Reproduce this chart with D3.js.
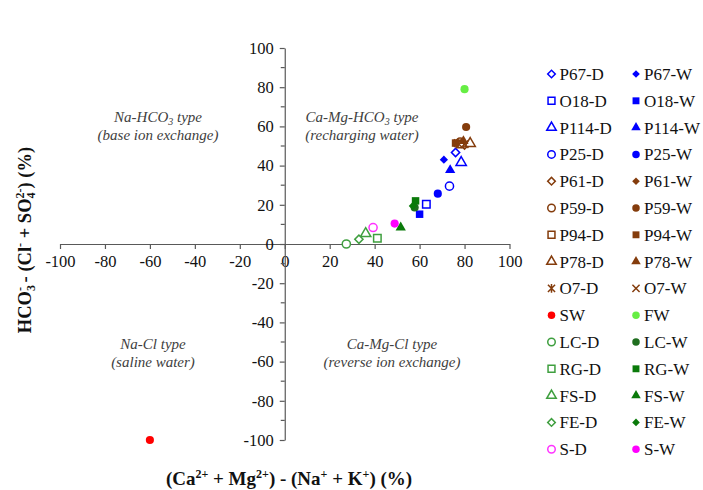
<!DOCTYPE html>
<meta charset="utf-8">
<style>
  body { margin: 0; background: #fff; }
  svg { font-family: "Liberation Serif", "Times New Roman", serif; }
  .axis path, .axis line { stroke: #595959; stroke-width: 1.2; }
  .quad { font-size: 15px; font-style: italic; fill: #404040; text-anchor: middle; }
  .legend text { font-size: 17px; fill: #111; }
  .title { font-weight: bold; fill: #111; }
</style>
<svg width="703" height="490"></svg>
<script src="https://d3js.org/d3.v7.min.js"></script>
<script>

// sample names in legend order (D column, W column)
var names = ["P67-D","P67-W","O18-D","O18-W","P114-D","P114-W","P25-D","P25-W",
             "P61-D","P61-W","P59-D","P59-W","P94-D","P94-W","P78-D","P78-W",
             "O7-D","O7-W","SW","FW","LC-D","LC-W","RG-D","RG-W",
             "FS-D","FS-W","FE-D","FE-W","S-D","S-W"];
// (Ca + Mg) - (Na + K), %
var xVals = [76, 70.8, 63, 60, 78.5, 73.6, 73.3, 68.1,
             80, 79, 78, 80.7, 78, 76, 82.5, 79.5,
             77, 80, -60, 80, 27.4, 57.8, 41.2, 58.2,
             36, 51.6, 33, 57, 39.3, 48.9];
// HCO3 - (Cl + SO4), %
var yVals = [46.7, 43, 20.3, 15.2, 41.6, 37.7, 29.5, 25.7,
             50.5, 52, 52, 59.7, 51, 51.5, 51.3, 52.5,
             51.5, 51, -100, 79, 0, 18.6, 2.9, 22,
             5.3, 8.4, 2.4, 19.4, 8.4, 10.4];

// marker styles
var shapes = ["diamond","diamond","square","square","triangle","triangle","circle","circle",
              "diamond","diamond","circle","circle","square","square","triangle","triangle",
              "asterisk","x","circle","circle","circle","circle","square","square",
              "triangle","triangle","diamond","diamond","circle","circle"];
var filled = [0,1,0,1,0,1,0,1, 0,1,0,1,0,1,0,1, 0,0,1,1, 0,1,0,1, 0,1,0,1, 0,1];
var blue = "#0000ff", brown = "#843c0c", gD = "#3f9f3f", gW = "#0a7a0a";
var colors = [blue,blue,blue,blue,blue,blue,blue,blue,
              brown,brown,brown,brown,brown,brown,brown,brown,
              brown,brown,"#ff0000","#66ee44",gD,"#1f6e1f",gD,gW,
              gD,gW,gD,gW,"#ff33ff","#ff00ff"];

var xTicks = [-100,-80,-60,-40,-20,0,20,40,60,80,100];
var yTicks = [-100,-80,-60,-40,-20,0,20,40,60,80,100];
var yMinor = [-90,-70,-50,-30,-10,10,30,50,70,90];

var svg = d3.select("svg");

var x = d3.scaleLinear().domain([-100, 100]).range([60, 509.5]);
var y = d3.scaleLinear().domain([-100, 100]).range([440, 48]);

// custom stroke symbols
var symX = { draw: function(ctx, size) {
  var r = Math.sqrt(size) / 2;
  ctx.moveTo(-r, -r); ctx.lineTo(r, r);
  ctx.moveTo(-r, r); ctx.lineTo(r, -r);
}};
var symAst = { draw: function(ctx, size) {
  var r = Math.sqrt(size) / 2;
  ctx.moveTo(-r, -r); ctx.lineTo(r, r);
  ctx.moveTo(-r, r); ctx.lineTo(r, -r);
  ctx.moveTo(0, -r * 1.2); ctx.lineTo(0, r * 1.2);
}};

function markerPath(shape, k) {
  k = k || 1;
  if (shape == "circle") return d3.symbol(d3.symbolCircle, 52 * k)();
  if (shape == "square") return d3.symbol(d3.symbolSquare, 56 * k)();
  if (shape == "diamond") return d3.symbol(d3.symbolSquare, 34 * k)();
  if (shape == "triangle") return d3.symbol(d3.symbolTriangle, 46 * k)();
  if (shape == "x") return d3.symbol(symX, 60 * k)();
  return d3.symbol(symAst, 60 * k)();
}

function drawMarker(g, i, k) {
  var open = !filled[i] && shapes[i] != "x" && shapes[i] != "asterisk";
  var stroke = shapes[i] == "x" || shapes[i] == "asterisk";
  g.append("path")
    .attr("d", markerPath(shapes[i], k))
    .attr("transform", shapes[i] == "diamond" ? "rotate(45)" : null)
    .attr("fill", (open || stroke) ? (stroke ? "none" : "#fff") : colors[i])
    .attr("stroke", (open || stroke) ? colors[i] : "none")
    .attr("stroke-width", 1.5);
}

function styleAxis(g) {
  g.attr("font-family", null).attr("font-size", null);
  g.selectAll("text")
    .style("font-family", "'Liberation Serif', serif")
    .style("font-size", "16.5px")
    .attr("fill", "#111");
}

// axes
var xAxis = svg.append("g")
    .attr("class", "axis")
    .attr("transform", "translate(0," + y(0) + ")")
    .call(d3.axisBottom(x).tickValues(xTicks).tickSize(5).tickSizeOuter(0).tickPadding(6)
      .tickFormat(function(d) { return String(d); }))
    .call(styleAxis);

var yAxis = svg.append("g")
    .attr("class", "axis")
    .attr("transform", "translate(" + x(0) + ",0)")
    .call(d3.axisLeft(y).tickValues(yTicks).tickSize(5).tickSizeOuter(0).tickPadding(6)
      .tickFormat(function(d) { return String(d); }))
    .call(styleAxis);

yAxis.selectAll(".minor")
    .data(yMinor)
    .enter().append("line")
    .attr("class", "minor")
    .attr("x1", -4).attr("x2", 0)
    .attr("y1", function(d) { return y(d); })
    .attr("y2", function(d) { return y(d); });

// quadrant notes
function quadNote(cx, cy, line1, sub, rest, line2) {
  var t = svg.append("text").attr("class", "quad").attr("x", cx).attr("y", cy);
  t.append("tspan").text(line1);
  if (sub) {
    t.append("tspan").attr("font-size", "10px").attr("dy", 3).text(sub);
    t.append("tspan").attr("dy", -3).text(rest);
  }
  svg.append("text").attr("class", "quad").attr("x", cx).attr("y", cy + 18).text(line2);
}
quadNote(158, 122, "Na-HCO", "3", " type", "(base ion exchange)");
quadNote(362, 122, "Ca-Mg-HCO", "3", " type", "(recharging water)");
quadNote(153, 349, "Na-Cl type", null, null, "(saline water)");
quadNote(392, 349, "Ca-Mg-Cl type", null, null, "(reverse ion exchange)");

// points
svg.append("g").selectAll("g")
    .data(names.map(function(d, i) { return i; }))
    .enter().append("g")
    .attr("transform", function(i) { return "translate(" + x(xVals[i]) + "," + y(yVals[i]) + ")"; })
    .each(function(i) { drawMarker(d3.select(this), i, 1); });

// legend: two columns
var legend = svg.append("g").attr("class", "legend");
names.forEach(function(n, i) {
  var col = i % 2, row = Math.floor(i / 2);
  var g = legend.append("g")
      .attr("transform", "translate(" + (551.5 + col * 84.5) + "," + (74 + row * 26.8) + ")");
  drawMarker(g, i, 0.85);
  g.append("text").attr("x", 8).attr("y", 6).text(n);
});

// axis titles
var xt = svg.append("text").attr("class", "title")
    .attr("font-size", "19px")
    .attr("x", 289).attr("y", 485).attr("text-anchor", "middle");
[["(Ca",0],["2+",1],[" + Mg",0],["2+",1],[") - (Na",0],["+",1],[" + K",0],["+",1],[") (%)",0]]
  .forEach(function(p, i, arr) {
    var prev = i > 0 ? arr[i - 1][1] : 0;
    xt.append("tspan")
      .attr("font-size", p[1] ? "12px" : null)
      .attr("dy", p[1] - prev == 1 ? -7 : (p[1] - prev == -1 ? 7 : 0))
      .text(p[0]);
  });

var yt = svg.append("text").attr("class", "title")
    .attr("font-size", "18.5px")
    .attr("transform", "translate(31,240) rotate(-90)")
    .attr("text-anchor", "middle");
// level: 0 base, 1 superscript, -1 subscript
var yParts = [["HCO",0],["3",-1],["-",1],[" - (Cl",0],["-",1],[" + SO",0],["4",-1],["2-",1],[") (%)",0]];
var shift = { "0": 0, "1": -7, "-1": 4 };
yParts.forEach(function(p, i) {
  var prev = i > 0 ? yParts[i - 1][1] : 0;
  var t = yt.append("tspan")
    .attr("font-size", p[1] ? "12px" : null)
    .attr("dy", shift[p[1]] - shift[prev])
    .text(p[0]);
  // sup right after sub stacks over it
  if (p[1] == 1 && prev == -1) t.attr("dx", -6);
});

</script>
